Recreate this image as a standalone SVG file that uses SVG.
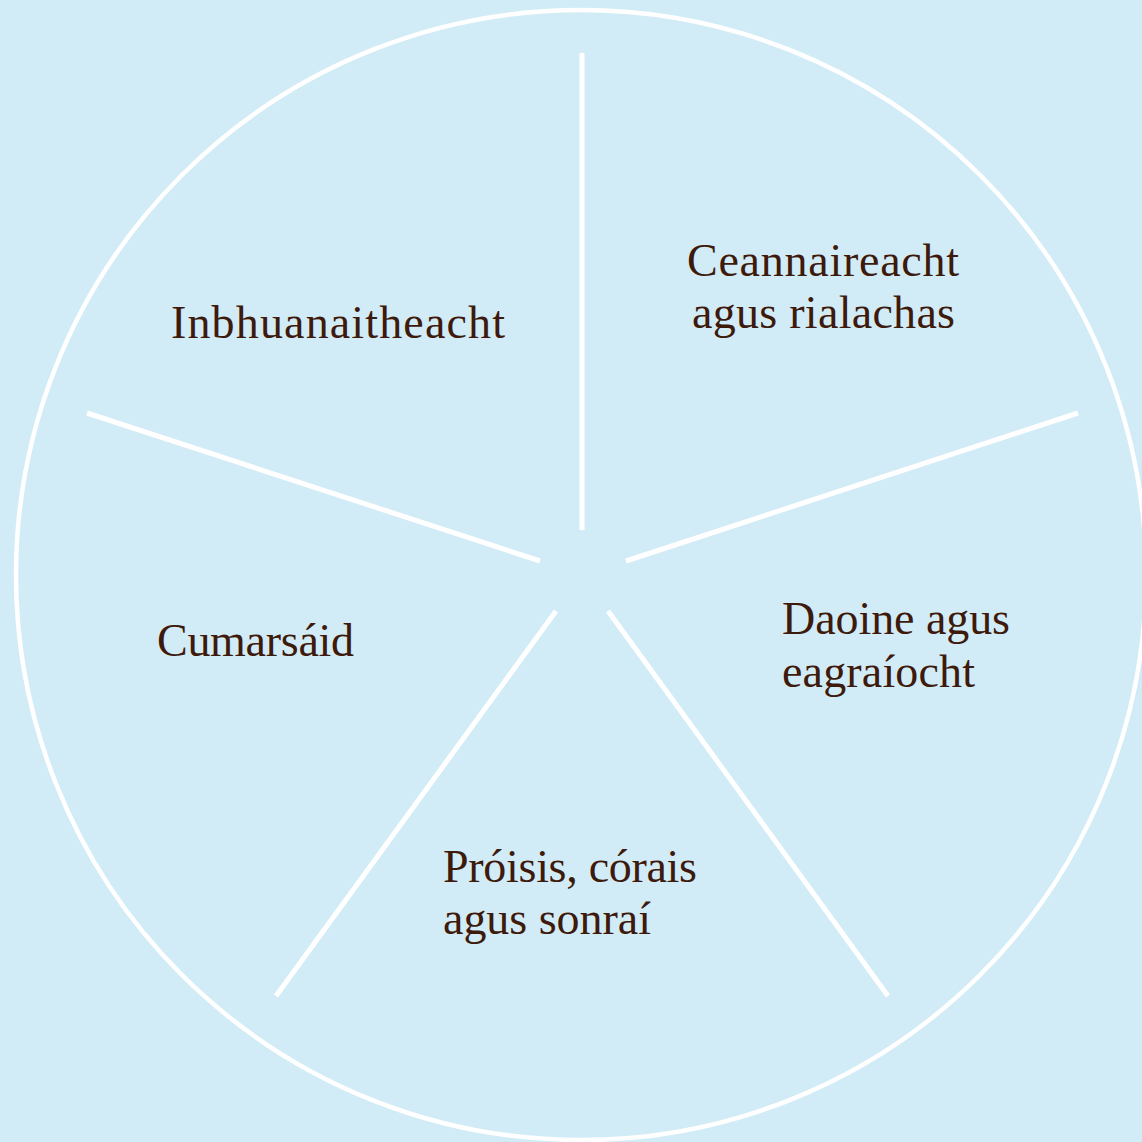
<svg xmlns="http://www.w3.org/2000/svg" width="1142" height="1142" viewBox="0 0 1142 1142">
<style>
.bg{fill:#d2ecf7}
.ring{fill:none;stroke:#ffffff;stroke-width:4.5}
.sep{stroke:#ffffff;stroke-width:5;fill:none}
.lbl{font-family:"Liberation Serif","Times New Roman",serif;font-size:46px;fill:#3d1a0b}
</style>
<rect class="bg" x="0" y="0" width="1142" height="1142"/>
<circle class="ring" cx="581" cy="575" r="565"/>
<g id="connectors">
<line class="sep" x1="582" y1="530" x2="582" y2="53"/>
<line class="sep" x1="626" y1="561" x2="1078" y2="413"/>
<line class="sep" x1="540" y1="561" x2="87" y2="413"/>
<line class="sep" x1="608" y1="611" x2="888" y2="996"/>
<line class="sep" x1="556" y1="611" x2="276" y2="996"/>
</g>
<g id="node-ceannaireacht">
<text class="lbl" x="687" y="276" textLength="272" lengthAdjust="spacing">Ceannaireacht</text>
<text class="lbl" x="692" y="328" textLength="263" lengthAdjust="spacing">agus rialachas</text>
</g>
<g id="node-inbhuanaitheacht">
<text class="lbl" x="171" y="338" textLength="334" lengthAdjust="spacing">Inbhuanaitheacht</text>
</g>
<g id="node-cumarsaid">
<text class="lbl" x="157" y="656" textLength="197" lengthAdjust="spacing">Cumarsáid</text>
</g>
<g id="node-daoine">
<text class="lbl" x="782" y="634" textLength="228" lengthAdjust="spacing">Daoine agus</text>
<text class="lbl" x="782" y="687" textLength="193" lengthAdjust="spacing">eagraíocht</text>
</g>
<g id="node-proisis">
<text class="lbl" x="443" y="882" textLength="254" lengthAdjust="spacing">Próisis, córais</text>
<text class="lbl" x="443" y="934" textLength="208" lengthAdjust="spacing">agus sonraí</text>
</g>
</svg>
